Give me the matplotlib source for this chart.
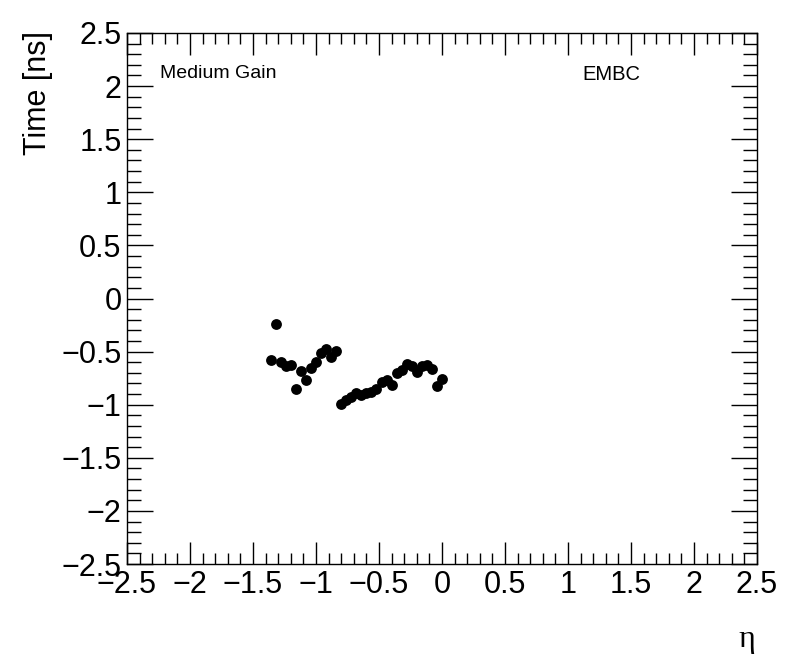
import numpy as np
import matplotlib
matplotlib.use("Agg")
import matplotlib.pyplot as plt
from matplotlib.ticker import MultipleLocator

# --- data ---
eta = [-1.36, -1.32, -1.28, -1.24, -1.20, -1.16, -1.12, -1.08, -1.04, -1.00,
       -0.96, -0.92, -0.88, -0.84, -0.80, -0.76, -0.72, -0.68, -0.64, -0.60,
       -0.56, -0.52, -0.48, -0.44, -0.40, -0.36, -0.32, -0.28, -0.24, -0.20,
       -0.16, -0.12, -0.08, -0.04, 0.00]
time_ns = [-0.58, -0.24, -0.60, -0.64, -0.63, -0.85, -0.68, -0.77, -0.65, -0.60,
           -0.51, -0.48, -0.55, -0.49, -0.99, -0.96, -0.93, -0.89, -0.91, -0.89,
           -0.88, -0.85, -0.79, -0.77, -0.81, -0.70, -0.67, -0.62, -0.64, -0.69,
           -0.64, -0.63, -0.66, -0.82, -0.76]

tick_values = [-2.5, -2, -1.5, -1, -0.5, 0, 0.5, 1, 1.5, 2, 2.5]
tick_labels = ["\u22122.5", "\u22122", "\u22121.5", "\u22121", "\u22120.5", "0",
               "0.5", "1", "1.5", "2", "2.5"]

plt.rcParams['font.family'] = ['Liberation Sans', 'DejaVu Sans']

fig = plt.figure(figsize=(7.96, 6.72), dpi=100)
ax = fig.add_axes([127 / 796, 1 - 564 / 672, 630 / 796, 531 / 672])

ax.plot(eta, time_ns, 'o', color='black', markersize=7.8, markeredgewidth=0)

ax.set_xlim(-2.5, 2.5)
ax.set_ylim(-2.5, 2.5)

# ROOT-like ticks: inside, on all four sides
ax.set_xticks(tick_values)
ax.set_xticklabels(tick_labels)
ax.set_yticks(tick_values)
ax.set_yticklabels(tick_labels)
ax.xaxis.set_minor_locator(MultipleLocator(0.1))
ax.yaxis.set_minor_locator(MultipleLocator(0.1))
ax.tick_params(which='both', direction='in', top=True, right=True,
               width=1, color='black', labelsize=22)
ax.tick_params(axis='x', which='major', length=16, pad=4)
ax.tick_params(axis='x', which='minor', length=8)
ax.tick_params(axis='y', which='major', length=19, pad=4)
ax.tick_params(axis='y', which='minor', length=10)
for s in ax.spines.values():
    s.set_linewidth(1)

# axis titles placed like ROOT does it (aligned to the end of the axis)
fig.text(38 / 796, 1 - 31 / 672, 'Time [ns]', rotation=90, ha='center', va='top',
         fontsize=22)
fig.text(747 / 796, 1 - 640 / 672, '\u03b7', ha='center', va='center',
         fontsize=23, family=['Liberation Serif', 'DejaVu Serif'])

ax.text(160 / 796, 1 - 74 / 672, 'Medium Gain', transform=fig.transFigure,
        ha='left', va='center', fontsize=14)
ax.text(582 / 796, 1 - 74 / 672, 'EMBC', transform=fig.transFigure,
        ha='left', va='center', fontsize=14.5)

fig.savefig('out.png', dpi=100)
